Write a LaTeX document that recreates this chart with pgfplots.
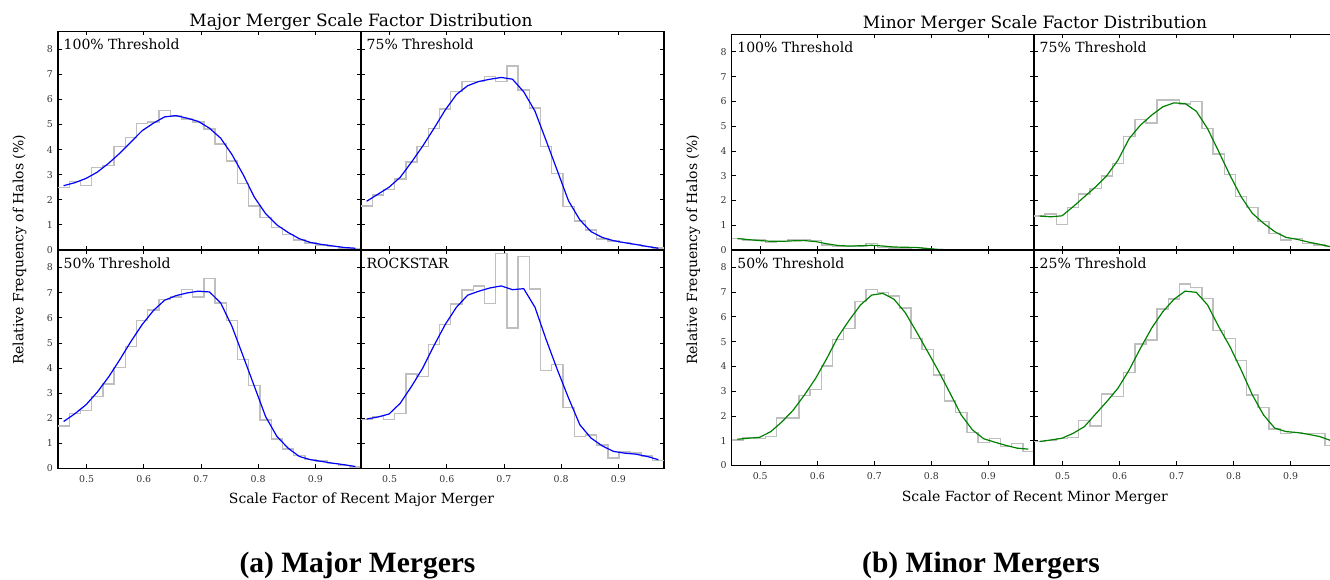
\documentclass[border=0pt]{standalone}
\usepackage{fontspec}
\setmainfont{DejaVu Serif}
\newfontfamily\capfont{Liberation Serif}
\usepackage{pgfplots}
\usepackage{pgfplotstable}
\pgfplotsset{compat=1.18}

\definecolor{histgray}{HTML}{BFBFBF}
\definecolor{mplgreen}{HTML}{008000}

% e = left bin edge, c = bin centre, h = histogram, s = smoothed curve
\pgfplotstableread{
e      c      h100 s100 h75  s75  h50  s50  hrs  srs
0.4500 0.4598 2.48 2.56 1.75 1.94 1.70 1.87 1.94 1.97
0.4696 0.4795 2.72 2.68 2.19 2.22 2.20 2.18 2.07 2.05
0.4893 0.4991 2.56 2.85 2.41 2.50 2.30 2.54 1.94 2.17
0.5089 0.5187 3.28 3.10 2.82 2.90 2.87 3.04 2.20 2.60
0.5285 0.5384 3.36 3.45 3.51 3.50 3.36 3.64 3.76 3.27
0.5482 0.5580 4.11 3.85 4.11 4.14 4.03 4.33 3.67 4.00
0.5678 0.5776 4.47 4.30 4.84 4.84 4.86 5.06 4.93 4.89
0.5874 0.5972 5.04 4.75 5.61 5.57 5.90 5.73 5.73 5.73
0.6070 0.6169 5.10 5.05 6.30 6.19 6.31 6.29 6.55 6.42
0.6267 0.6365 5.56 5.30 6.70 6.54 6.72 6.70 7.10 6.90
0.6463 0.6561 5.33 5.35 6.70 6.71 6.83 6.88 7.26 7.06
0.6659 0.6758 5.21 5.25 6.90 6.80 7.12 6.99 6.56 7.19
0.6856 0.6954 5.10 5.12 6.70 6.87 6.83 7.06 8.56 7.27
0.7052 0.7150 4.81 4.85 7.33 6.80 7.57 7.03 5.59 7.12
0.7248 0.7346 4.22 4.45 6.37 6.30 6.59 6.59 8.43 7.16
0.7444 0.7543 3.55 3.80 5.66 5.53 5.90 5.66 7.15 6.42
0.7641 0.7739 2.65 3.00 4.11 4.35 4.33 4.47 3.91 5.13
0.7837 0.7935 1.75 2.10 3.05 3.15 3.31 3.27 4.13 3.93
0.8033 0.8131 1.30 1.45 1.72 1.95 1.93 2.07 2.43 2.80
0.8230 0.8328 0.89 1.00 1.15 1.20 1.17 1.28 1.28 1.74
0.8426 0.8524 0.62 0.70 0.80 0.73 0.77 0.81 1.34 1.21
0.8622 0.8720 0.40 0.45 0.44 0.50 0.52 0.48 0.94 0.90
0.8819 0.8917 0.28 0.30 0.36 0.37 0.35 0.35 0.41 0.68
0.9015 0.9113 0.20 0.22 0.29 0.29 0.30 0.28 0.65 0.61
0.9211 0.9309 0.14 0.16 0.22 0.22 0.20 0.21 0.61 0.57
0.9407 0.9506 0.08 0.10 0.15 0.14 0.12 0.15 0.50 0.48
0.9604 0.9702 0.04 0.07 0.08 0.07 0.06 0.08 0.31 0.35
0.9800 nan    0.04 nan  0.08 nan  0.06 nan  0.31 nan
}\major

\pgfplotstableread{
e      c      h100 s100 h75  s75  h50  s50  h25  s25
0.4500 0.4598 0.47 0.46 1.37 1.37 1.03 1.06 0.97 0.97
0.4696 0.4795 0.38 0.42 1.45 1.34 1.13 1.10 1.01 1.03
0.4893 0.4991 0.40 0.38 1.03 1.38 1.08 1.14 1.08 1.10
0.5089 0.5187 0.30 0.35 1.71 1.75 1.17 1.37 1.14 1.30
0.5285 0.5384 0.34 0.35 2.26 2.15 1.91 1.77 1.81 1.57
0.5482 0.5580 0.40 0.37 2.49 2.55 1.91 2.24 1.60 2.08
0.5678 0.5776 0.43 0.38 2.98 3.00 2.82 2.85 2.88 2.58
0.5874 0.5972 0.38 0.34 3.49 3.63 3.08 3.52 2.78 3.12
0.6070 0.6169 0.20 0.25 4.57 4.50 4.02 4.33 3.75 3.86
0.6267 0.6365 0.14 0.18 5.27 5.04 5.09 5.20 4.91 4.73
0.6463 0.6561 0.14 0.16 5.13 5.44 5.54 5.87 5.07 5.54
0.6659 0.6758 0.16 0.17 6.05 5.78 6.61 6.48 6.32 6.21
0.6856 0.6954 0.26 0.19 6.05 5.94 7.11 6.88 6.72 6.71
0.7052 0.7150 0.11 0.16 5.89 5.91 6.99 6.95 7.33 7.04
0.7248 0.7346 0.08 0.12 6.00 5.60 6.85 6.71 7.18 6.99
0.7444 0.7543 0.08 0.11 4.90 4.90 6.36 6.17 6.75 6.48
0.7641 0.7739 0.10 0.10 3.87 3.97 5.13 5.40 5.44 5.60
0.7837 0.7935 0.05 0.06 3.05 3.02 4.69 4.60 5.13 4.80
0.8033 0.8131 0.01 0.02 2.15 2.15 3.66 3.79 4.23 3.86
0.8230 0.8328 0.00 0.01 1.72 1.48 2.61 2.92 2.85 2.85
0.8426 0.8524 0.00 0.00 1.14 1.08 2.14 2.04 2.35 2.04
0.8622 0.8720 0.00 0.00 0.67 0.74 1.33 1.44 1.48 1.51
0.8819 0.8917 0.00 0.00 0.40 0.51 0.94 1.08 1.30 1.37
0.9015 0.9113 0.01 0.00 0.47 0.43 1.08 0.94 1.34 1.33
0.9211 0.9309 0.00 0.00 0.27 0.32 0.77 0.81 1.30 1.26
0.9407 0.9506 0.00 0.00 0.20 0.23 0.90 0.70 1.30 1.17
0.9604 0.9702 0.00 0.00 0.13 0.13 0.56 0.66 0.81 1.01
0.9800 nan    0.00 nan  0.13 nan  0.56 nan  0.81 nan
}\minor

\pgfplotsset{
  panel/.style={scale only axis, anchor=south west,
    xmin=0.45, xmax=0.98, ymin=0, ymax=8.7,
    xtick={0.5,0.6,0.7,0.8,0.9}, ytick={0,1,...,8},
    tick align=inside, major tick length=4pt,
    every tick/.style={black, line width=0.8pt},
    axis line style={line width=1.1pt},
    tick label style={font=\fontsize{9.4}{10}\selectfont, text=black!80},
    /pgf/number format/assume math mode=true,
    xticklabel style={inner sep=0pt, yshift=-6.5pt},
    yticklabel style={inner sep=0pt, xshift=-5pt}},
  majorsize/.style={width=303pt, height=218.5pt},
  minorsize/.style={width=302.3pt, height=215.5pt},
  notop/.style={xticklabels=\empty},
  noleft/.style={yticklabels=\empty},
}

% #1 position, #2 options, #3 table, #4 hist column, #5 curve column, #6 colour, #7 label
\newcommand\sub[7]{%
\begin{axis}[panel, at={#1}, #2]
\addplot[const plot, histgray, line width=1.4pt] table[x=e, y=#4] {#3};
\addplot[#6, line width=1.2pt] table[x=c, y=#5] {#3};
\node[anchor=base west, inner sep=0pt, xshift=5.5pt, yshift=-18.3pt, font=\fontsize{14}{16}\selectfont] at (rel axis cs:0,1) {#7};
\end{axis}}

\begin{document}
\begin{tikzpicture}
\path[use as bounding box] (0,0) rectangle (1330pt,580pt);

% (a) major mergers
\sub{(58pt,330pt)}{majorsize, notop}{\major}{h100}{s100}{blue}{100\% Threshold}
\sub{(361pt,330pt)}{majorsize, notop, noleft}{\major}{h75}{s75}{blue}{75\% Threshold}
\sub{(58pt,111.5pt)}{majorsize}{\major}{h50}{s50}{blue}{50\% Threshold}
\sub{(361pt,111.5pt)}{majorsize, noleft}{\major}{hrs}{srs}{blue}{ROCKSTAR}

% (b) minor mergers
\sub{(731.7pt,330pt)}{minorsize, notop}{\minor}{h100}{s100}{mplgreen}{100\% Threshold}
\sub{(1034pt,330pt)}{minorsize, notop, noleft}{\minor}{h75}{s75}{mplgreen}{75\% Threshold}
\sub{(731.7pt,114.5pt)}{minorsize}{\minor}{h50}{s50}{mplgreen}{50\% Threshold}
\sub{(1034pt,114.5pt)}{minorsize, noleft}{\minor}{h25}{s25}{mplgreen}{25\% Threshold}

\begin{scope}[font=\fontsize{17}{20}\selectfont]
\node[anchor=base] at (361pt,553.3pt) {Major Merger Scale Factor Distribution};
\node[anchor=base] at (1035pt,551.7pt) {Minor Merger Scale Factor Distribution};
\end{scope}
\begin{scope}[font=\fontsize{14}{16}\selectfont]
\node[anchor=base] at (361.5pt,76.7pt) {Scale Factor of Recent Major Merger};
\node[anchor=base] at (1034.8pt,78.3pt) {Scale Factor of Recent Minor Merger};
\node[anchor=base, rotate=90] at (23.5pt,330pt) {Relative Frequency of Halos (\%)};
\node[anchor=base, rotate=90] at (697pt,330pt) {Relative Frequency of Halos (\%)};
\end{scope}
\begin{scope}[font=\capfont\bfseries\fontsize{29.5}{32}\selectfont]
\node[anchor=base] at (357.5pt,7pt) {(a) Major Mergers};
\node[anchor=base] at (981pt,7pt) {(b) Minor Mergers};
\end{scope}
\end{tikzpicture}
\end{document}
